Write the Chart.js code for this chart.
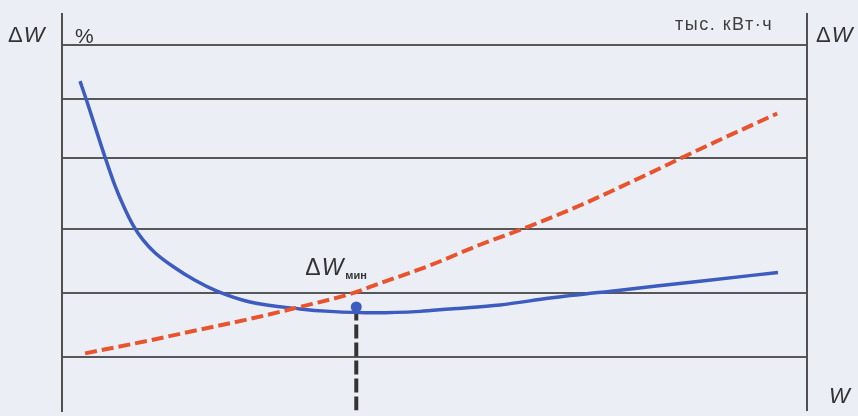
<!DOCTYPE html>
<html>
<head>
<meta charset="utf-8">
<script src="https://cdn.jsdelivr.net/npm/chart.js@4/dist/chart.umd.min.js"></script>
<style>
  body { margin: 0; background: #eceef6; }
  #wrap { width: 858px; height: 416px; }
</style>
</head>
<body>
<div id="wrap"><canvas id="lossChart"></canvas></div>
<script>
// W axis (relative units 0..100) and ΔW values (relative units 0..100)
var blueX = [2.42, 3.36, 4.56, 5.77, 7.11, 8.46, 9.53, 10.87, 12.48, 14.9, 17.85, 20.81, 25.23, 31.95, 35.97, 42.01, 48.05, 52.08, 58.79, 65.5, 74.9, 85.64, 96.11]
var blueY = [83.08, 77.86, 70.9, 63.93, 56.72, 50.75, 46.77, 43.03, 39.8, 36.32, 32.84, 30.1, 27.36, 25.62, 25.0, 24.63, 25.0, 25.62, 26.62, 28.36, 30.35, 32.59, 34.83]
var redX = [3.1, 11.8, 18.5, 25.2, 31.9, 38.7, 42.7, 49.4, 56.1, 62.8, 69.5, 77.6, 85.6, 96.0]
var redY = [14.4, 17.7, 20.4, 23.1, 26.1, 29.4, 32.1, 36.6, 41.8, 46.5, 51.7, 58.7, 65.9, 74.9]
var minX = 39.5
var minY = 26.1
var gridLevels = [13.4, 29.6, 45.8, 63.7, 78.6, 92.3]

function toPoints(xs, ys) {
    return xs.map(function (x, i) { return { x: x, y: ys[i] } })
}

var labelsPlugin = {
    id: 'labels',
    beforeDraw: function (chart) {
        var ctx = chart.ctx
        ctx.save()
        ctx.fillStyle = '#eceef6'
        ctx.fillRect(0, 0, chart.width, chart.height)
        ctx.restore()
    },
    afterDraw: function (chart) {
        var ctx = chart.ctx
        var area = chart.chartArea
        var sx = chart.scales.x
        var sy = chart.scales.y
        ctx.save()
        ctx.fillStyle = '#333333'
        ctx.textBaseline = 'alphabetic'
        function deltaW(x, y, size) {
            ctx.font = size + 'px "Liberation Sans", Arial, sans-serif'
            ctx.fillText('\u0394', x, y)
            var w = ctx.measureText('\u0394').width
            ctx.font = 'italic ' + size + 'px "Liberation Sans", Arial, sans-serif'
            ctx.fillText('W', x + w + 1, y)
            return w + 1 + ctx.measureText('W').width
        }
        deltaW(8, 42, 22)
        ctx.font = '21px "Liberation Sans", Arial, sans-serif'
        ctx.fillText('%', area.left + 13, 43)
        ctx.fillStyle = '#3e3e3e'
        ctx.font = '18px "Liberation Sans", Arial, sans-serif'
        ctx.letterSpacing = '1.5px'
        ctx.fillText('тыс. кВт·ч', 675, 30)
        ctx.letterSpacing = '0px'
        ctx.fillStyle = '#333333'
        deltaW(area.right + 9, 42, 22)
        ctx.font = 'italic 22px "Liberation Sans", Arial, sans-serif'
        ctx.fillText('W', area.right + 22, 403)
        var px = sx.getPixelForValue(minX)
        var py = sy.getPixelForValue(minY)
        var w = deltaW(px - 51, py - 32, 23)
        ctx.font = 'bold 11px "Liberation Sans", Arial, sans-serif'
        ctx.fillText('мин', px - 51 + w + 2, py - 28)
        ctx.restore()
    }
}

new Chart(document.getElementById('lossChart'), {
    type: 'scatter',
    data: {
        datasets: [{
            data: toPoints(redX, redY),
            showLine: true,
            borderColor: '#e9542e',
            borderWidth: 4,
            borderDash: [12, 5],
            pointRadius: 0,
            cubicInterpolationMode: 'monotone'
        }, {
            data: toPoints(blueX, blueY),
            showLine: true,
            borderColor: '#3d5cbf',
            borderWidth: 3.5,
            pointRadius: 0,
            cubicInterpolationMode: 'monotone'
        }, {
            data: [{ x: minX, y: 0 }, { x: minX, y: minY }],
            showLine: true,
            borderColor: '#333333',
            borderWidth: 4,
            borderDash: [14, 4],
            pointRadius: [0, 5.5],
            pointBackgroundColor: '#3d5cbf',
            pointBorderWidth: 0
        }]
    },
    options: {
        responsive: true,
        maintainAspectRatio: false,
        animation: false,
        layout: {
            padding: { left: 62, right: 51, top: 14, bottom: 0 }
        },
        scales: {
            x: {
                type: 'linear',
                min: 0,
                max: 100,
                display: false
            },
            y: {
                min: 0,
                max: 100,
                position: 'left',
                afterBuildTicks: function (axis) {
                    axis.ticks = gridLevels.map(function (v) { return { value: v } })
                },
                ticks: { display: false },
                grid: { color: '#575757', lineWidth: 2, drawTicks: false },
                border: { display: true, color: '#505050', width: 2 }
            },
            y2: {
                min: 0,
                max: 100,
                position: 'right',
                ticks: { display: false },
                grid: { display: false, drawTicks: false },
                border: { display: true, color: '#505050', width: 2 }
            }
        },
        plugins: {
            legend: { display: false },
            tooltip: { enabled: false }
        }
    },
    plugins: [labelsPlugin]
})
</script>
</body>
</html>
